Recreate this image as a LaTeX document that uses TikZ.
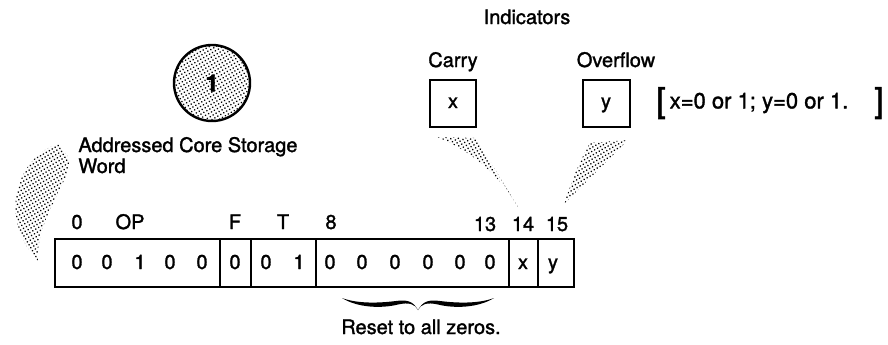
\documentclass[tikz,border=0pt]{standalone}
\usepackage{fontspec}
\setmainfont{TeX Gyre Heros}[FakeBold=1.5]
\usetikzlibrary{patterns.meta}
\begin{document}
\begin{tikzpicture}[x=0.5pt,y=-0.5pt,
  font=\fontsize{10}{12}\selectfont,
  lbl/.style={inner sep=0pt, anchor=base},
  lblw/.style={inner sep=0pt, anchor=base west},
  reg/.style={line width=1.1pt},
  indbox/.style={line width=1.3pt},
  dotfill/.style={pattern={Dots[distance=1.7pt, radius=0.45pt, angle=30]}}]
\useasboundingbox (0,0) rectangle (888,344);

% circled number
\node[circle, draw, line width=1.2pt, minimum size=38pt, inner sep=0pt, dotfill,
      font=\fontsize{12}{12}\selectfont\bfseries] (one) at (212,83) {1};
\node[lblw] (acs1) at (78,152) {Addressed Core Storage};
\node[lblw] (acs2) at (78,173) {Word};

% crescent of dots
\fill[dotfill] (58,144) .. controls (20,155) and (-5,215) .. (38,261)
  .. controls (36,225) and (60,195) .. (68,170) .. controls (70,158) .. (58,144);

% indicators
\node[lbl] (indic) at (527,24) {Indicators};
\node[lbl] (carry) at (453,67) {Carry};
\node[lbl] (ovfl) at (616,67) {Overflow};
\draw[indbox] (430,80) rectangle (476,127);
\draw[indbox] (583,80) rectangle (630,127);
\node[lbl] (cx) at (453,108) {x};
\node[lbl] (oy) at (606,108) {y};

% wedges of dots
\fill[dotfill] (437,137) .. controls (470,150) and (500,175) .. (518,207) -- (476,138) -- cycle;
\fill[dotfill] (628,140) -- (564,204) .. controls (572,180) and (580,160) .. (590,143) -- cycle;

% note
\node[inner sep=0pt, font=\fontsize{17}{17}\selectfont] (lbr) at (661,103) {[};
\node[inner sep=0pt, font=\fontsize{11}{12}\selectfont] (note) at (759,103) {x=0 or 1; y=0 or 1.};
\node[inner sep=0pt, font=\fontsize{17}{17}\selectfont] (rbr) at (879,103) {]};

% bit labels
\node[lbl] (l0) at (77,229) {0};
\node[lbl] (lop) at (130,229) {OP};
\node[lbl] (lf) at (235,229) {F};
\node[lbl] (lt) at (283,229) {T};
\node[lbl] (l8) at (331,229) {8};
\node[lbl] (l13) at (485,231) {13};
\node[lbl] (l14) at (523,231) {14};
\node[lbl] (l15) at (557,231) {15};

% register
\draw[reg] (55,239) rectangle (574,287);
\foreach \xx in {220,251,316,509,538} \draw[reg] (\xx,239) -- (\xx,287);
\foreach \xx/\v [count=\i] in {77/0,107/0,140/1,170/0,202/0,235/0,266/0,299/1,330/0,362/0,395/0,428/0,460/0,490/0}
  \node[lbl] (d\i) at (\xx,269) {\v};
\node[lbl] (dx) at (523,269) {x};
\node[lbl] (dy) at (553,269) {y};

% brace (calligraphic, drawn as filled swooshes)
\fill (342,298) .. controls (358,308) and (382,308.5) .. (398,304.5)
  .. controls (409,302) and (415,304) .. (418,310)
  .. controls (413,301) and (407,299.5) .. (396,301)
  .. controls (380,303) and (358,304) .. (342,298) -- cycle;
\fill (494,298) .. controls (478,308) and (454,308.5) .. (438,304.5)
  .. controls (427,302) and (421,304) .. (418,310)
  .. controls (423,301) and (429,299.5) .. (440,301)
  .. controls (456,303) and (478,304) .. (494,298) -- cycle;
\node[lbl] (reset) at (421,334) {Reset to all zeros.};
\end{tikzpicture}
\end{document}
